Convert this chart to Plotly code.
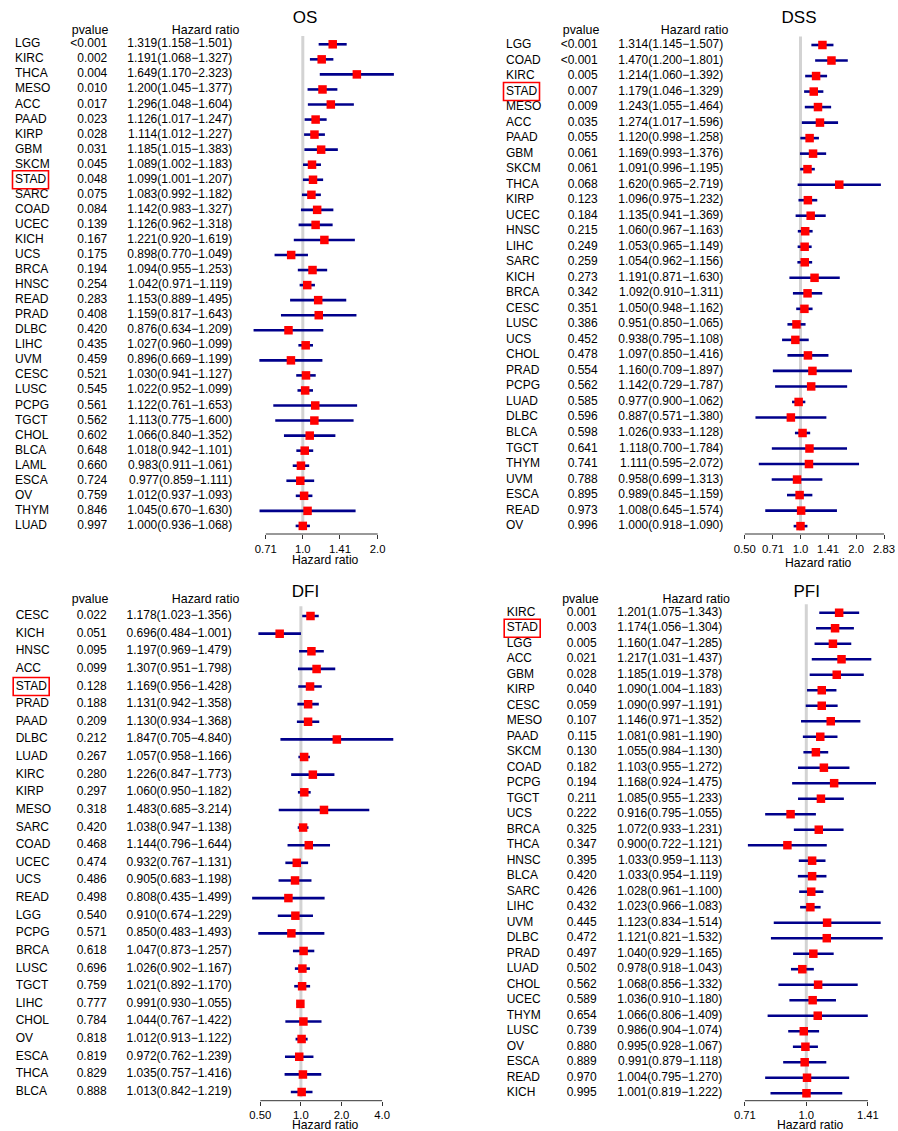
import math
import plotly.graph_objects as go

W, H = 898, 1131
FONT = "Liberation Sans, Arial, Helvetica, sans-serif"

# ---------------- OS ----------------
os_names = ["LGG", "KIRC", "THCA", "MESO", "ACC", "PAAD", "KIRP", "GBM", "SKCM", "STAD",
            "SARC", "COAD", "UCEC", "KICH", "UCS", "BRCA", "HNSC", "READ", "PRAD", "DLBC",
            "LIHC", "UVM", "CESC", "LUSC", "PCPG", "TGCT", "CHOL", "BLCA", "LAML", "ESCA",
            "OV", "THYM", "LUAD"]
os_pvalues = ["<0.001", "0.002", "0.004", "0.010", "0.017", "0.023", "0.028", "0.031", "0.045",
              "0.048", "0.075", "0.084", "0.139", "0.167", "0.175", "0.194", "0.254", "0.283",
              "0.408", "0.420", "0.435", "0.459", "0.521", "0.545", "0.561", "0.562", "0.602",
              "0.648", "0.660", "0.724", "0.759", "0.846", "0.997"]
os_hr = [1.319, 1.191, 1.649, 1.200, 1.296, 1.126, 1.114, 1.185, 1.089, 1.099, 1.083, 1.142,
         1.126, 1.221, 0.898, 1.094, 1.042, 1.153, 1.159, 0.876, 1.027, 0.896, 1.030, 1.022,
         1.122, 1.113, 1.066, 1.018, 0.983, 0.977, 1.012, 1.045, 1.000]
os_lo = [1.158, 1.068, 1.170, 1.045, 1.048, 1.017, 1.012, 1.015, 1.002, 1.001, 0.992, 0.983,
         0.962, 0.920, 0.770, 0.955, 0.971, 0.889, 0.817, 0.634, 0.960, 0.669, 0.941, 0.952,
         0.761, 0.775, 0.840, 0.942, 0.911, 0.859, 0.937, 0.670, 0.936]
os_hi = [1.501, 1.327, 2.323, 1.377, 1.604, 1.247, 1.227, 1.383, 1.183, 1.207, 1.182, 1.327,
         1.318, 1.619, 1.049, 1.253, 1.119, 1.495, 1.643, 1.209, 1.099, 1.199, 1.127, 1.099,
         1.653, 1.600, 1.352, 1.101, 1.061, 1.111, 1.093, 1.630, 1.068]
os_ticks = [0.71, 1.0, 1.41, 2.0]
os_ticktext = ["0.71", "1.0", "1.41", "2.0"]

# ---------------- DSS ----------------
dss_names = ["LGG", "COAD", "KIRC", "STAD", "MESO", "ACC", "PAAD", "GBM", "SKCM", "THCA",
             "KIRP", "UCEC", "HNSC", "LIHC", "SARC", "KICH", "BRCA", "CESC", "LUSC", "UCS",
             "CHOL", "PRAD", "PCPG", "LUAD", "DLBC", "BLCA", "TGCT", "THYM", "UVM", "ESCA",
             "READ", "OV"]
dss_pvalues = ["<0.001", "<0.001", "0.005", "0.007", "0.009", "0.035", "0.055", "0.061", "0.061",
               "0.068", "0.123", "0.184", "0.215", "0.249", "0.259", "0.273", "0.342", "0.351",
               "0.386", "0.452", "0.478", "0.554", "0.562", "0.585", "0.596", "0.598", "0.641",
               "0.741", "0.788", "0.895", "0.973", "0.996"]
dss_hr = [1.314, 1.470, 1.214, 1.179, 1.243, 1.274, 1.120, 1.169, 1.091, 1.620, 1.096, 1.135,
          1.060, 1.053, 1.054, 1.191, 1.092, 1.050, 0.951, 0.938, 1.097, 1.160, 1.142, 0.977,
          0.887, 1.026, 1.118, 1.111, 0.958, 0.989, 1.008, 1.000]
dss_lo = [1.145, 1.200, 1.060, 1.046, 1.055, 1.017, 0.998, 0.993, 0.996, 0.965, 0.975, 0.941,
          0.967, 0.965, 0.962, 0.871, 0.910, 0.948, 0.850, 0.795, 0.850, 0.709, 0.729, 0.900,
          0.571, 0.933, 0.700, 0.595, 0.699, 0.845, 0.645, 0.918]
dss_hi = [1.507, 1.801, 1.392, 1.329, 1.464, 1.596, 1.258, 1.376, 1.195, 2.719, 1.232, 1.369,
          1.163, 1.149, 1.156, 1.630, 1.311, 1.162, 1.065, 1.108, 1.416, 1.897, 1.787, 1.062,
          1.380, 1.128, 1.784, 2.072, 1.313, 1.159, 1.574, 1.090]
dss_ticks = [0.50, 0.71, 1.0, 1.41, 2.0, 2.83]
dss_ticktext = ["0.50", "0.71", "1.0", "1.41", "2.0", "2.83"]

# ---------------- DFI ----------------
dfi_names = ["CESC", "KICH", "HNSC", "ACC", "STAD", "PRAD", "PAAD", "DLBC", "LUAD", "KIRC",
             "KIRP", "MESO", "SARC", "COAD", "UCEC", "UCS", "READ", "LGG", "PCPG", "BRCA",
             "LUSC", "TGCT", "LIHC", "CHOL", "OV", "ESCA", "THCA", "BLCA"]
dfi_pvalues = ["0.022", "0.051", "0.095", "0.099", "0.128", "0.188", "0.209", "0.212", "0.267",
               "0.280", "0.297", "0.318", "0.420", "0.468", "0.474", "0.486", "0.498", "0.540",
               "0.571", "0.618", "0.696", "0.759", "0.777", "0.784", "0.818", "0.819", "0.829",
               "0.888"]
dfi_hr = [1.178, 0.696, 1.197, 1.307, 1.169, 1.131, 1.130, 1.847, 1.057, 1.226, 1.060, 1.483,
          1.038, 1.144, 0.932, 0.905, 0.808, 0.910, 0.850, 1.047, 1.026, 1.021, 0.991, 1.044,
          1.012, 0.972, 1.035, 1.013]
dfi_lo = [1.023, 0.484, 0.969, 0.951, 0.956, 0.942, 0.934, 0.705, 0.958, 0.847, 0.950, 0.685,
          0.947, 0.796, 0.767, 0.683, 0.435, 0.674, 0.483, 0.873, 0.902, 0.892, 0.930, 0.767,
          0.913, 0.762, 0.757, 0.842]
dfi_hi = [1.356, 1.001, 1.479, 1.798, 1.428, 1.358, 1.368, 4.840, 1.166, 1.773, 1.182, 3.214,
          1.138, 1.644, 1.131, 1.198, 1.499, 1.229, 1.493, 1.257, 1.167, 1.170, 1.055, 1.422,
          1.122, 1.239, 1.416, 1.219]
dfi_ticks = [0.5, 1.0, 2.0, 4.0]
dfi_ticktext = ["0.50", "1.0", "2.0", "4.0"]

# ---------------- PFI ----------------
pfi_names = ["KIRC", "STAD", "LGG", "ACC", "GBM", "KIRP", "CESC", "MESO", "PAAD", "SKCM",
             "COAD", "PCPG", "TGCT", "UCS", "BRCA", "THCA", "HNSC", "BLCA", "SARC", "LIHC",
             "UVM", "DLBC", "PRAD", "LUAD", "CHOL", "UCEC", "THYM", "LUSC", "OV", "ESCA",
             "READ", "KICH"]
pfi_pvalues = ["0.001", "0.003", "0.005", "0.021", "0.028", "0.040", "0.059", "0.107", "0.115",
               "0.130", "0.182", "0.194", "0.211", "0.222", "0.325", "0.347", "0.395", "0.420",
               "0.426", "0.432", "0.445", "0.472", "0.497", "0.502", "0.562", "0.589", "0.654",
               "0.739", "0.880", "0.889", "0.970", "0.995"]
pfi_hr = [1.201, 1.174, 1.160, 1.217, 1.185, 1.090, 1.090, 1.146, 1.081, 1.055, 1.103, 1.168,
          1.085, 0.916, 1.072, 0.900, 1.033, 1.033, 1.028, 1.023, 1.123, 1.121, 1.040, 0.978,
          1.068, 1.036, 1.066, 0.986, 0.995, 0.991, 1.004, 1.001]
pfi_lo = [1.075, 1.056, 1.047, 1.031, 1.019, 1.004, 0.997, 0.971, 0.981, 0.984, 0.955, 0.924,
          0.955, 0.795, 0.933, 0.722, 0.959, 0.954, 0.961, 0.966, 0.834, 0.821, 0.929, 0.918,
          0.856, 0.910, 0.806, 0.904, 0.928, 0.879, 0.795, 0.819]
pfi_hi = [1.343, 1.304, 1.285, 1.437, 1.378, 1.183, 1.191, 1.352, 1.190, 1.130, 1.272, 1.475,
          1.233, 1.055, 1.231, 1.121, 1.113, 1.119, 1.100, 1.083, 1.514, 1.532, 1.165, 1.043,
          1.332, 1.180, 1.409, 1.074, 1.067, 1.118, 1.270, 1.222]
pfi_ticks = [0.71, 1.0, 1.41]
pfi_ticktext = ["0.71", "1.0", "1.41"]

HIGHLIGHT = "STAD"

# Page geometry of each forest panel (pixels from the top-left corner)
panels = [
    dict(title="OS", names=os_names, pvals=os_pvalues, hr=os_hr, lo=os_lo, hi=os_hi,
         ticks=os_ticks, ticktext=os_ticktext,
         left=0, top=0, row0=44.3, step=15.05, axis_y=534, xlab_y=560,
         name_x=15, p_right=107.3, hr_right=232.3, ph_right=108.3, hh_right=239.3, head_y=31,
         title_x=305, title_y=19, one_px=302.8, ppd=74.9, fx=(240, 445)),
    dict(title="DSS", names=dss_names, pvals=dss_pvalues, hr=dss_hr, lo=dss_lo, hi=dss_hi,
         ticks=dss_ticks, ticktext=dss_ticktext,
         left=449, top=0, row0=45, step=15.52, axis_y=534, xlab_y=563,
         name_x=506, p_right=597.7, hr_right=723.3, ph_right=599.3, hh_right=728.3, head_y=31,
         title_x=799, title_y=18.3, one_px=800.5, ppd=55.7, fx=(730, 895)),
    dict(title="DFI", names=dfi_names, pvals=dfi_pvalues, hr=dfi_hr, lo=dfi_lo, hi=dfi_hi,
         ticks=dfi_ticks, ticktext=dfi_ticktext,
         left=0, top=570, row0=616, step=17.63, axis_y=1100.7, xlab_y=1124.5,
         name_x=15.7, p_right=106.7, hr_right=231.7, ph_right=108.3, hh_right=239.3, head_y=600,
         title_x=305.5, title_y=592.7, one_px=300.9, ppd=40.6, fx=(240, 445)),
    dict(title="PFI", names=pfi_names, pvals=pfi_pvalues, hr=pfi_hr, lo=pfi_lo, hi=pfi_hi,
         ticks=pfi_ticks, ticktext=pfi_ticktext,
         left=449, top=570, row0=612.7, step=15.5, axis_y=1100.7, xlab_y=1124.5,
         name_x=506.7, p_right=596.7, hr_right=722.3, ph_right=598.7, hh_right=730, head_y=600,
         title_x=806.7, title_y=592.7, one_px=806.3, ppd=124.3, fx=(730, 895)),
]

NAVY = "#00008B"
RED = "#FF0000"
GREY = "#D3D3D3"
AXIS_COL = "#333333"
TXT = 12
PAD_BELOW = 8

fig = go.Figure()
layout = dict(width=W, height=H, margin=dict(l=0, r=0, t=0, b=0), autosize=False,
              paper_bgcolor="white", plot_bgcolor="rgba(0,0,0,0)", showlegend=False,
              shapes=[], annotations=[])


def txt(size=TXT, color="black"):
    return dict(family=FONT, size=size, color=color)


for k, p in enumerate(panels, start=1):
    xa, xb, ya = 2 * k - 1, 2 * k, k
    xa_n = "x" if xa == 1 else f"x{xa}"
    xb_n = f"x{xb}"
    ya_n = "y" if ya == 1 else f"y{ya}"
    n = len(p["names"])
    row = lambda px, p=p: (px - p["row0"]) / p["step"]

    bottom_px = p["axis_y"] + PAD_BELOW
    layout["yaxis" + ("" if ya == 1 else str(ya))] = dict(
        domain=[1 - bottom_px / H, 1 - p["top"] / H],
        range=[row(bottom_px), row(p["top"])],
        visible=False, fixedrange=True)
    layout["xaxis" + ("" if xa == 1 else str(xa))] = dict(
        domain=[p["left"] / W, (p["left"] + 449) / W],
        range=[p["left"], p["left"] + 449], visible=False, anchor=ya_n, fixedrange=True)

    lg = lambda px, p=p: (px - p["one_px"]) / p["ppd"] * math.log10(2)
    layout[f"xaxis{xb}"] = dict(
        type="log", domain=[p["fx"][0] / W, p["fx"][1] / W],
        range=[lg(p["fx"][0]), lg(p["fx"][1])],
        anchor="free", position=1 - p["axis_y"] / H,
        tickmode="array", tickvals=p["ticks"], ticktext=p["ticktext"],
        ticks="outside", ticklen=4, tickwidth=1, tickcolor=AXIS_COL,
        tickfont=txt(11.3), showline=False, showgrid=False, zeroline=False,
        fixedrange=True)

    # x-axis caption, centred under the tick span
    t0 = p["one_px"] + math.log2(p["ticks"][0]) * p["ppd"]
    t1 = p["one_px"] + math.log2(p["ticks"][-1]) * p["ppd"]
    layout["annotations"].append(dict(
        text="Hazard ratio", xref="paper", yref="paper",
        x=((t0 + t1) / 2 + 4) / W, y=1 - p["xlab_y"] / H,
        xanchor="center", yanchor="middle", showarrow=False, font=txt(12.2)))

    idx = list(range(n))

    # reference line at HR = 1
    fig.add_trace(go.Scatter(x=[1, 1], y=[-0.55, n - 1 + 0.3], mode="lines",
                             line=dict(color=GREY, width=3), xaxis=xb_n, yaxis=ya_n,
                             hoverinfo="skip"))
    # axis baseline spanning the tick range
    yb = row(p["axis_y"])
    fig.add_trace(go.Scatter(x=[p["ticks"][0], p["ticks"][-1]], y=[yb, yb], mode="lines",
                             line=dict(color=AXIS_COL, width=1), xaxis=xb_n, yaxis=ya_n,
                             hoverinfo="skip"))
    # confidence intervals
    cx, cy = [], []
    for i, (lo, hi) in enumerate(zip(p["lo"], p["hi"])):
        cx += [lo, hi, None]
        cy += [i, i, None]
    fig.add_trace(go.Scatter(x=cx, y=cy, mode="lines", line=dict(color=NAVY, width=2.6),
                             xaxis=xb_n, yaxis=ya_n))
    # point estimates
    fig.add_trace(go.Scatter(x=p["hr"], y=idx, mode="markers",
                             marker=dict(symbol="square", size=8.5, color=RED,
                                         line=dict(width=0)),
                             xaxis=xb_n, yaxis=ya_n))

    # table columns
    fig.add_trace(go.Scatter(x=[p["name_x"]] * n, y=idx, text=p["names"], mode="text",
                             textposition="middle right", textfont=txt(),
                             xaxis=xa_n, yaxis=ya_n))
    fig.add_trace(go.Scatter(x=[p["p_right"]] * n, y=idx, text=p["pvals"], mode="text",
                             textposition="middle left", textfont=txt(),
                             xaxis=xa_n, yaxis=ya_n))
    hr_text = [f"{h:.3f}({l:.3f}\u2212{u:.3f})" for h, l, u in zip(p["hr"], p["lo"], p["hi"])]
    fig.add_trace(go.Scatter(x=[p["hr_right"]] * n, y=idx, text=hr_text, mode="text",
                             textposition="middle left", textfont=txt(),
                             xaxis=xa_n, yaxis=ya_n))
    # column headers and panel title
    hy = row(p["head_y"])
    fig.add_trace(go.Scatter(x=[p["ph_right"], p["hh_right"]], y=[hy, hy],
                             text=["pvalue", "Hazard ratio"], mode="text",
                             textposition="middle left", textfont=txt(12.4),
                             xaxis=xa_n, yaxis=ya_n))
    fig.add_trace(go.Scatter(x=[p["title_x"]], y=[row(p["title_y"])], text=[p["title"]],
                             mode="text", textposition="middle center", textfont=txt(17),
                             xaxis=xa_n, yaxis=ya_n))

    # box around the highlighted cancer type
    if HIGHLIGHT in p["names"]:
        j = p["names"].index(HIGHLIGHT)
        half = 9 / p["step"]
        layout["shapes"].append(dict(type="rect", xref=xa_n, yref=ya_n,
                                     x0=p["name_x"] - 2.5, x1=p["name_x"] + 33.5,
                                     y0=j - half, y1=j + half,
                                     line=dict(color=RED, width=1.6)))

fig.update_layout(**layout)
fig.write_html("out.html")
